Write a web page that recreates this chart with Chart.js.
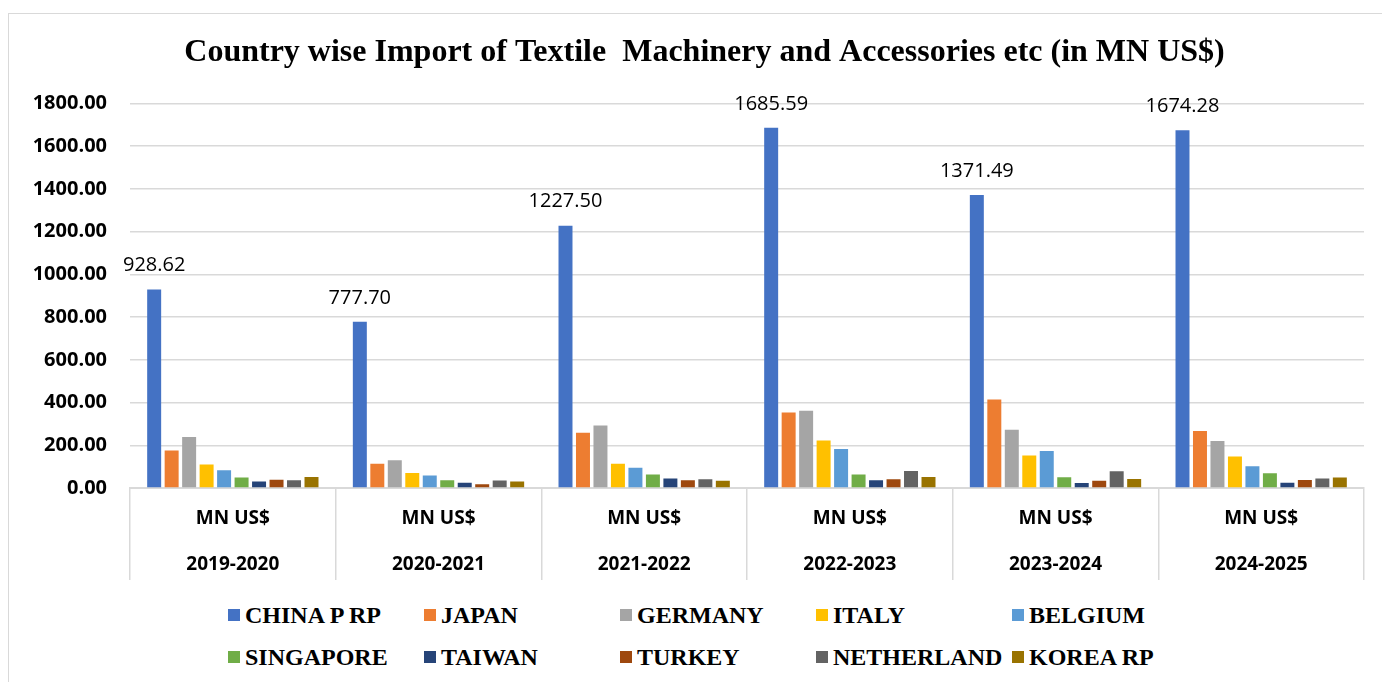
<!DOCTYPE html>
<html>
<head>
<meta charset="utf-8">
<script src="https://cdn.jsdelivr.net/npm/chart.js@4.4.1/dist/chart.umd.min.js"></script>
<style>
	body {
		margin: 0;
		background: #ffffff;
		overflow: hidden;
	}
	#quadro {
		position: absolute;
		left: 8px;
		top: 13px;
		width: 1380px;
		height: 680px;
		border: 1px solid #d9d9d9;
		box-sizing: border-box;
	}
	#areaGrafico {
		position: absolute;
		left: 0;
		top: 0;
		width: 1373px;
		height: 574px;
	}
	#legenda {
		position: absolute;
		left: 219px;
		top: 580px;
		display: grid;
		grid-template-columns: repeat(5, 196px);
		grid-auto-rows: 42px;
		font-family: "Liberation Serif", "Times New Roman", serif;
		font-weight: bold;
		font-size: 24px;
		color: #000;
	}
	.item {
		display: flex;
		align-items: center;
		white-space: nowrap;
	}
	.caixa {
		width: 12px;
		height: 12px;
		margin-right: 5px;
		flex: none;
	}
</style>
</head>
<body>
<div id="quadro">
	<div id="areaGrafico"><canvas id="grafico"></canvas></div>
	<div id="legenda"></div>
</div>

<script>
// Anos fiscais (rótulo em duas linhas)
var anos = ["2019-2020", "2020-2021", "2021-2022", "2022-2023", "2023-2024", "2024-2025"];
var unidade = "MN US$";

// Países e cores
var paises = ["CHINA P RP", "JAPAN", "GERMANY", "ITALY", "BELGIUM", "SINGAPORE", "TAIWAN", "TURKEY", "NETHERLAND", "KOREA RP"];
var cores = ["#4472C4", "#ED7D31", "#A5A5A5", "#FFC000", "#5B9BD5", "#70AD47", "#264478", "#9E480E", "#636363", "#997300"];

// Importações por país (MN US$)
var china = [928.62, 777.7, 1227.5, 1685.59, 1371.49, 1674.28];
var japan = [176, 114, 258, 353, 414, 267];
var germany = [239, 130, 292, 362, 273, 220];
var italy = [110, 70, 114, 222, 152, 147];
var belgium = [83, 58, 95, 183, 173, 102];
var singapore = [49, 36, 63, 63, 50, 69];
var taiwan = [30, 25, 44, 36, 23, 25];
var turkey = [39, 17, 36, 41, 34, 37];
var netherland = [36, 35, 41, 80, 78, 44];
var korea = [52, 31, 34, 52, 42, 49];

var valores = [china, japan, germany, italy, belgium, singapore, taiwan, turkey, netherland, korea];

var titulo = "Country wise Import of Textile  Machinery and Accessories etc (in MN US$)";

var fonteEixo = "'Open Sans', 'DejaVu Sans', sans-serif";
var corGrade = "#d9d9d9";

var labels = [];
for (var i = 0; i < anos.length; i++) {
	labels.push([unidade, anos[i]]);
}

var datasets = [];
for (var i = 0; i < paises.length; i++) {
	datasets.push({
		label: paises[i],
		data: valores[i],
		backgroundColor: cores[i],
		borderWidth: 0,
		categoryPercentage: 0.85,
		barPercentage: 0.8,
	});
}

// Valor escrito acima das barras da China
const rotulosChina = {
	id: "rotulosChina",
	afterDatasetsDraw(chart) {
		var ctx = chart.ctx;
		var meta = chart.getDatasetMeta(0);
		ctx.save();
		ctx.font = "20px " + fonteEixo;
		ctx.fillStyle = "#000";
		ctx.textAlign = "center";
		ctx.textBaseline = "middle";
		for (var i = 0; i < meta.data.length; i++) {
			var barra = meta.data[i];
			ctx.fillText(china[i].toFixed(2), barra.x, barra.y - 24);
		}
		ctx.restore();
	},
};

// Título um pouco deslocado para a direita (centrado no quadro todo)
const deslocaTitulo = {
	id: "deslocaTitulo",
	afterLayout(chart) {
		chart.titleBlock.left += 36;
	},
};

// Legenda em grade de 5 colunas
var legenda = document.getElementById("legenda");
for (var i = 0; i < paises.length; i++) {
	legenda.innerHTML += `
		<div class="item"><span class="caixa" style="background:${cores[i]}"></span>${paises[i]}</div>
	`;
}

var grafico = new Chart(document.getElementById("grafico"), {
	type: "bar",
	data: {
		labels: labels,
		datasets: datasets,
	},
	options: {
		responsive: true,
		maintainAspectRatio: false,
		animation: false,
		layout: {
			padding: { left: 0, right: 18, top: 0, bottom: 0 },
		},
		plugins: {
			legend: { display: false },
			tooltip: { enabled: false },
			title: {
				display: true,
				text: titulo,
				color: "#000",
				font: { family: "'Liberation Serif', 'Times New Roman', serif", size: 32, weight: "bold", lineHeight: 1.2 },
				padding: { top: 20, bottom: 31 },
			},
		},
		scales: {
			x: {
				offset: true,
				grid: {
					offset: true,
					drawOnChartArea: false,
					drawTicks: true,
					tickLength: 92,
					color: corGrade,
					lineWidth: 1.5,
				},
				border: { display: true, color: corGrade, width: 2 },
				ticks: {
					color: "#000",
					padding: -85,
					font: { family: fonteEixo, size: 19, weight: "bold", lineHeight: 2.45 },
					maxRotation: 0,
					autoSkip: false,
				},
				afterFit: function (escala) {
					escala.height = 100;
				},
			},
			y: {
				min: 0,
				max: 1800,
				grid: {
					color: corGrade,
					lineWidth: 1.5,
					drawTicks: false,
				},
				border: { display: false },
				ticks: {
					stepSize: 200,
					color: "#000",
					padding: 23,
					font: { family: fonteEixo, size: 20, weight: "bold" },
					callback: function (valor) {
						return valor.toFixed(2);
					},
				},
				afterFit: function (escala) {
					escala.width = 121;
				},
			},
		},
	},
	plugins: [rotulosChina, deslocaTitulo],
});
</script>
</body>
</html>
